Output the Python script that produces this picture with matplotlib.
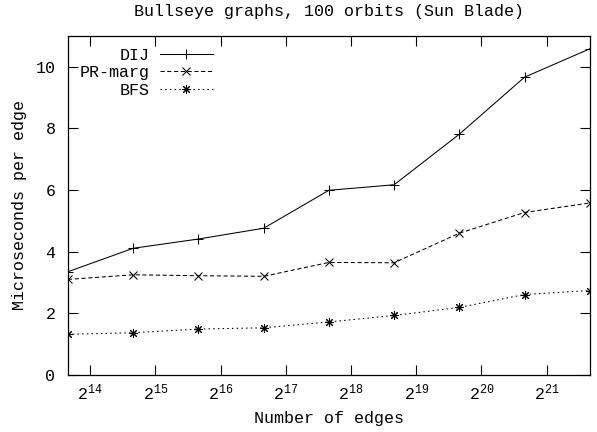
# Bullseye graphs timing plot, gnuplot look
import matplotlib
matplotlib.use("Agg")
import matplotlib.pyplot as plt
from matplotlib.ticker import FixedLocator, NullLocator

plt.rcParams['font.family'] = ['Liberation Mono', 'DejaVu Sans Mono']
plt.rcParams['mathtext.fontset'] = 'custom'
plt.rcParams['mathtext.rm'] = 'Liberation Mono'
plt.rcParams['font.size'] = 12

edges = [12960, 25920, 51840, 103680, 207360, 414720, 829440, 1658880, 3317760]
dij = [3.35, 4.11, 4.41, 4.76, 5.99, 6.17, 7.81, 9.66, 10.58]
pr_marg = [3.10, 3.25, 3.22, 3.20, 3.65, 3.64, 4.60, 5.27, 5.58]
bfs = [1.32, 1.37, 1.49, 1.53, 1.72, 1.93, 2.19, 2.61, 2.74]
xtick_exps = [14, 15, 16, 17, 18, 19, 20, 21]

fig = plt.figure(figsize=(5.97, 4.32), dpi=100)
ax = fig.add_axes([0.1139, 0.132, 0.874, 0.785])

lw = 0.75
ax.plot(edges, dij, color='black', lw=lw, ls='-', marker='+', ms=6.5, mew=lw, label='DIJ')
ax.plot(edges, pr_marg, color='black', lw=lw, ls=(0, (4, 2.5)), marker='x', ms=5.5, mew=lw, label='PR-marg')
ax.plot(edges, bfs, color='black', lw=lw, ls=(0, (1.5, 3)), marker=(8, 2, 0), ms=6.5, mew=lw, label='BFS')

ax.set_xscale('log', base=2)
ax.set_xlim(edges[0], edges[-1])
ax.set_ylim(0, 11)
ax.xaxis.set_major_locator(FixedLocator([2 ** e for e in xtick_exps]))
ax.set_xticklabels([r'$\mathregular{2^{%d}}$' % e for e in xtick_exps])
ax.xaxis.set_minor_locator(NullLocator())
ax.set_yticks([0, 2, 4, 6, 8, 10])

ax.tick_params(direction='in', length=7, width=0.8, top=True, right=True)
ax.tick_params(axis='y', pad=9)
ax.tick_params(axis='x', pad=5)
for s in ax.spines.values():
    s.set_linewidth(0.9)

ax.set_title('Bullseye graphs, 100 orbits (Sun Blade)', fontsize=12, pad=14)
ax.set_xlabel('Number of edges', labelpad=6)
ax.set_ylabel('Microseconds per edge', labelpad=6)

ax.legend(loc='upper left', frameon=False, markerfirst=False, handlelength=3.2,
          labelspacing=0.15, borderaxespad=0.3, handletextpad=0.6)

fig.savefig('out.png', dpi=100)
